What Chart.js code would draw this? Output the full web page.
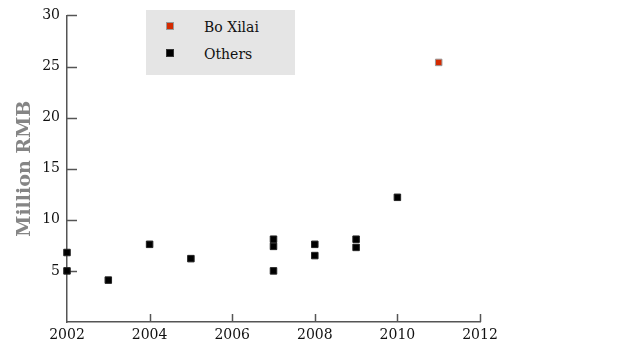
<!DOCTYPE html>
<html>
<head>
<meta charset="utf-8">
<script src="https://cdn.jsdelivr.net/npm/chart.js@4/dist/chart.umd.min.js"></script>
<style>
  html, body { margin: 0; padding: 0; background: #fff; }
  #wrap { position: relative; width: 620px; height: 352px; }
  #legend {
    position: absolute; left: 146px; top: 10px; width: 149px; height: 65px;
    background: #e5e5e5; font-family: "DejaVu Serif", serif; font-size: 14px; color: #111;
  }
  #legend .row { position: absolute; left: 0; height: 20px; line-height: 20px; }
  #legend .mk { position: absolute; left: 21px; top: 6px; width: 6px; height: 6px; }
  #legend .lb { position: absolute; left: 58px; top: 0; white-space: nowrap; }
</style>
</head>
<body>
<div id="wrap">
  <canvas id="c" width="620" height="352"></canvas>
  <div id="legend"></div>
</div>
<script>
// ── Data ────────────────────────────────────────────────────────────────────
const boYears    = [2011];
const boValues   = [25.4];
const otherYears  = [2002, 2002, 2003, 2004, 2005, 2007, 2007, 2007, 2008, 2008, 2009, 2009, 2010];
const otherValues = [6.8,  5.0,  4.1,  7.6,  6.2,  8.1,  7.4,  5.0,  7.6,  6.5,  8.1,  7.3,  12.2];
const xTicks = [2002, 2004, 2006, 2008, 2010, 2012];
const yTicks = [5, 10, 15, 20, 25, 30];

const RED   = '#d42a00';
const BLACK = '#000000';
const AXIS  = '#555555';
const FONT  = '"DejaVu Serif", serif';

// ── Legend (HTML) ───────────────────────────────────────────────────────────
const legendItems = [
  { label: 'Bo Xilai', color: RED,   border: '#999' },
  { label: 'Others',   color: BLACK, border: '#333' },
];
document.getElementById('legend').innerHTML = legendItems.map((it, i) => `
  <div class="row" style="top:${7 + i * 27}px">
    <span class="mk" style="background:${it.color};outline:1px solid ${it.border};"></span>
    <span class="lb">${it.label}</span>
  </div>`).join('');

// ── Inward tick marks, drawn from the scales ────────────────────────────────
const innerTicks = {
  id: 'innerTicks',
  beforeDatasetsDraw(chart) {
    const { ctx, scales: { x, y } } = chart;
    ctx.save();
    ctx.strokeStyle = AXIS;
    ctx.lineWidth = 1.5;
    yTicks.forEach(v => {
      const py = Math.round(y.getPixelForValue(v)) + 0.5;
      ctx.beginPath(); ctx.moveTo(x.left, py); ctx.lineTo(x.left + 10, py); ctx.stroke();
    });
    xTicks.slice(1).forEach(v => {
      const px = Math.round(x.getPixelForValue(v)) + 0.5;
      ctx.beginPath(); ctx.moveTo(px, y.bottom); ctx.lineTo(px, y.bottom - 8); ctx.stroke();
    });
    ctx.restore();
  }
};

const toPts = (xs, ys) => xs.map((v, i) => ({ x: v, y: ys[i] }));

new Chart(document.getElementById('c'), {
  type: 'scatter',
  data: {
    datasets: [
      {
        label: 'Bo Xilai',
        data: toPts(boYears, boValues),
        pointStyle: 'rect', radius: 4.6, hoverRadius: 4.6, clip: false,
        backgroundColor: RED, borderColor: '#999', borderWidth: 1,
      },
      {
        label: 'Others',
        data: toPts(otherYears, otherValues),
        pointStyle: 'rect', radius: 4.6, hoverRadius: 4.6, clip: false,
        backgroundColor: BLACK, borderColor: '#222', borderWidth: 1,
      },
    ]
  },
  options: {
    responsive: false,
    animation: false,
    layout: { padding: { left: 0, top: 12, right: 140, bottom: 0 } },
    plugins: { legend: { display: false }, tooltip: { enabled: false } },
    scales: {
      x: {
        type: 'linear', min: 2002, max: 2012,
        afterBuildTicks: s => { s.ticks = xTicks.map(v => ({ value: v })); },
        afterFit: s => { s.height = 30; },
        grid: { display: false, drawTicks: false },
        border: { display: true, color: AXIS, width: 1.5 },
        ticks: {
          color: '#111', padding: 5,
          font: { family: FONT, size: 14 },
          callback: v => String(v),
        },
      },
      y: {
        min: 0, max: 30,
        afterBuildTicks: s => { s.ticks = yTicks.map(v => ({ value: v })); },
        afterFit: s => { s.width = 67; },
        grid: { display: false, drawTicks: false },
        border: { display: true, color: AXIS, width: 1.5 },
        ticks: {
          color: '#111', padding: 7,
          font: { family: FONT, size: 14 },
        },
        title: {
          display: true, text: 'Million RMB', color: '#858585',
          font: { family: FONT, size: 19, weight: 'bold' },
          padding: { top: 14, bottom: 0 },
        },
      },
    },
  },
  plugins: [innerTicks],
});
</script>
</body>
</html>
